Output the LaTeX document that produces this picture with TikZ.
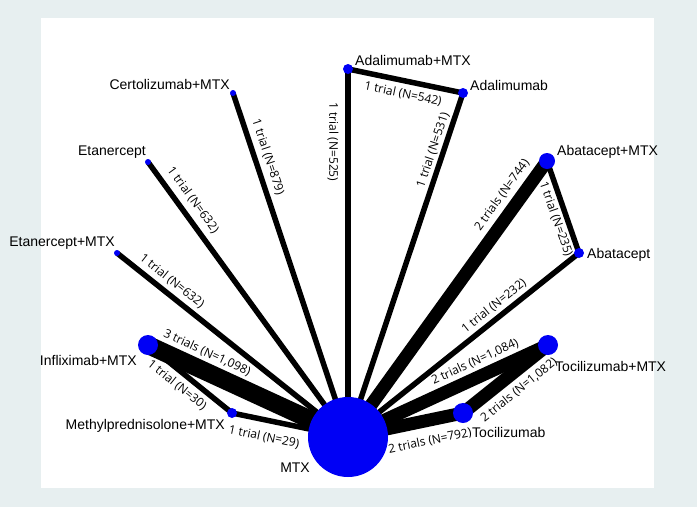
\documentclass[tikz,border=0pt]{standalone}
\usepackage{fontspec}
\setmainfont{Liberation Sans}
\newfontfamily\edgefont{Open Sans}
\pgfdeclarelayer{bg}
\pgfdeclarelayer{edges}
\pgfsetlayers{bg,edges,main}
\definecolor{pagebg}{HTML}{E7EFF0}
\definecolor{nodeblue}{HTML}{0000F5}
\tikzset{
  tx/.style={circle,fill=nodeblue,inner sep=0pt,minimum size=#1},
  nlab/.style={font=\fontsize{14}{16}\selectfont,inner sep=0pt,text=black},
  elab/.style={font=\edgefont\fontsize{12}{14}\selectfont,inner sep=0pt,text=black},
  e1/.style={line width=5.5pt,black},
  e2/.style={line width=13pt,black},
  e3/.style={line width=18pt,black},
}
\begin{document}
\begin{tikzpicture}[x=1pt,y=-1pt]
\begin{pgfonlayer}{bg}
\fill[pagebg] (0,0) rectangle (697,507);
\fill[white] (41,18) rectangle (654,488);
\end{pgfonlayer}
\useasboundingbox (0,0) rectangle (697,507);
% nodes
\node[tx=80pt] (mtx) at (348,437) {};
\node[tx=10pt] (adamtx) at (348,69) {};
\node[tx=10pt] (ada) at (463,93) {};
\node[tx=6pt] (cert) at (233,93) {};
\node[tx=6pt] (eta) at (148,162) {};
\node[tx=6pt] (etamtx) at (117,253) {};
\node[tx=20pt] (infmtx) at (148,345) {};
\node[tx=10pt] (met) at (232,413) {};
\node[tx=16pt] (abamtx) at (547,161) {};
\node[tx=10pt] (aba) at (579,253) {};
\node[tx=20pt] (tocmtx) at (548,345) {};
\node[tx=20pt] (toc) at (463,413) {};
% edges
\begin{pgfonlayer}{edges}
\draw[e1] (mtx.center) -- (adamtx.center);
\draw[e1] (adamtx.center) -- (ada.center);
\draw[e1] (ada.center) -- (mtx.center);
\draw[e1] (cert.center) -- (mtx.center);
\draw[e1] (eta.center) -- (mtx.center);
\draw[e1] (etamtx.center) -- (mtx.center);
\draw[e3] (infmtx.center) -- (mtx.center);
\draw[e1] (infmtx.center) -- (met.center);
\draw[e1] (met.center) -- (mtx.center);
\draw[e2] (mtx.center) -- (abamtx.center);
\draw[e1] (abamtx.center) -- (aba.center);
\draw[e1] (mtx.center) -- (aba.center);
\draw[e2] (mtx.center) -- (tocmtx.center);
\draw[e2] (toc.center) -- (tocmtx.center);
\draw[e2] (mtx.center) -- (toc.center);
\end{pgfonlayer}
% node labels
\node[nlab,anchor=west] (ladamtx) at (355,60) {Adalimumab+MTX};
\node[nlab,anchor=west] (lada) at (470,85) {Adalimumab};
\node[nlab,anchor=east] (lcert) at (230,84) {Certolizumab+MTX};
\node[nlab,anchor=east] (leta) at (146,152) {Etanercept};
\node[nlab,anchor=east] (letamtx) at (115,243) {Etanercept+MTX};
\node[nlab,anchor=east] (linf) at (137,360) {Infliximab+MTX};
\node[nlab,anchor=east] (lmet) at (225,426) {Methylprednisolone+MTX};
\node[nlab,anchor=east] (lmtx) at (310,468) {MTX};
\node[nlab,anchor=west] (labamtx) at (557,152) {Abatacept+MTX};
\node[nlab,anchor=west] (laba) at (587,255) {Abatacept};
\node[nlab,anchor=west] (ltocmtx) at (555,366) {Tocilizumab+MTX};
\node[nlab,anchor=west] (ltoc) at (472,432) {Tocilizumab};
% edge labels
\node[elab,rotate=-90] (l525) at (333,142) {1 trial (N=525)};
\node[elab,rotate=-71.5] (l879) at (268,157) {1 trial (N=879)};
\node[elab,rotate=-54] (l632a) at (193,200) {1 trial (N=632)};
\node[elab,rotate=-38.5] (l632b) at (172,281) {1 trial (N=632)};
\node[elab,rotate=-24.7] (l1098) at (207,353) {3 trials (N=1,098)};
\node[elab,rotate=-39] (l30) at (177,385) {1 trial (N=30)};
\node[elab,rotate=-11.7] (l29) at (264,437) {1 trial (N=29)};
\node[elab,rotate=-11.8] (l542) at (403,94) {1 trial (N=542)};
\node[elab,rotate=71.5] (l531) at (433,150) {1 trial (N=531)};
\node[elab,rotate=54.2] (l744) at (502,195) {2 trials (N=744)};
\node[elab,rotate=-70.8] (l235) at (556,219) {1 trial (N=235)};
\node[elab,rotate=38.5] (l232) at (494,306) {1 trial (N=232)};
\node[elab,rotate=24.7] (l1084) at (475,362) {2 trials (N=1,084)};
\node[elab,rotate=38.7] (l1082) at (519,390) {2 trials (N=1,082)};
\node[elab,rotate=11.8] (l792) at (430,441) {2 trials (N=792)};
\end{tikzpicture}
\end{document}
